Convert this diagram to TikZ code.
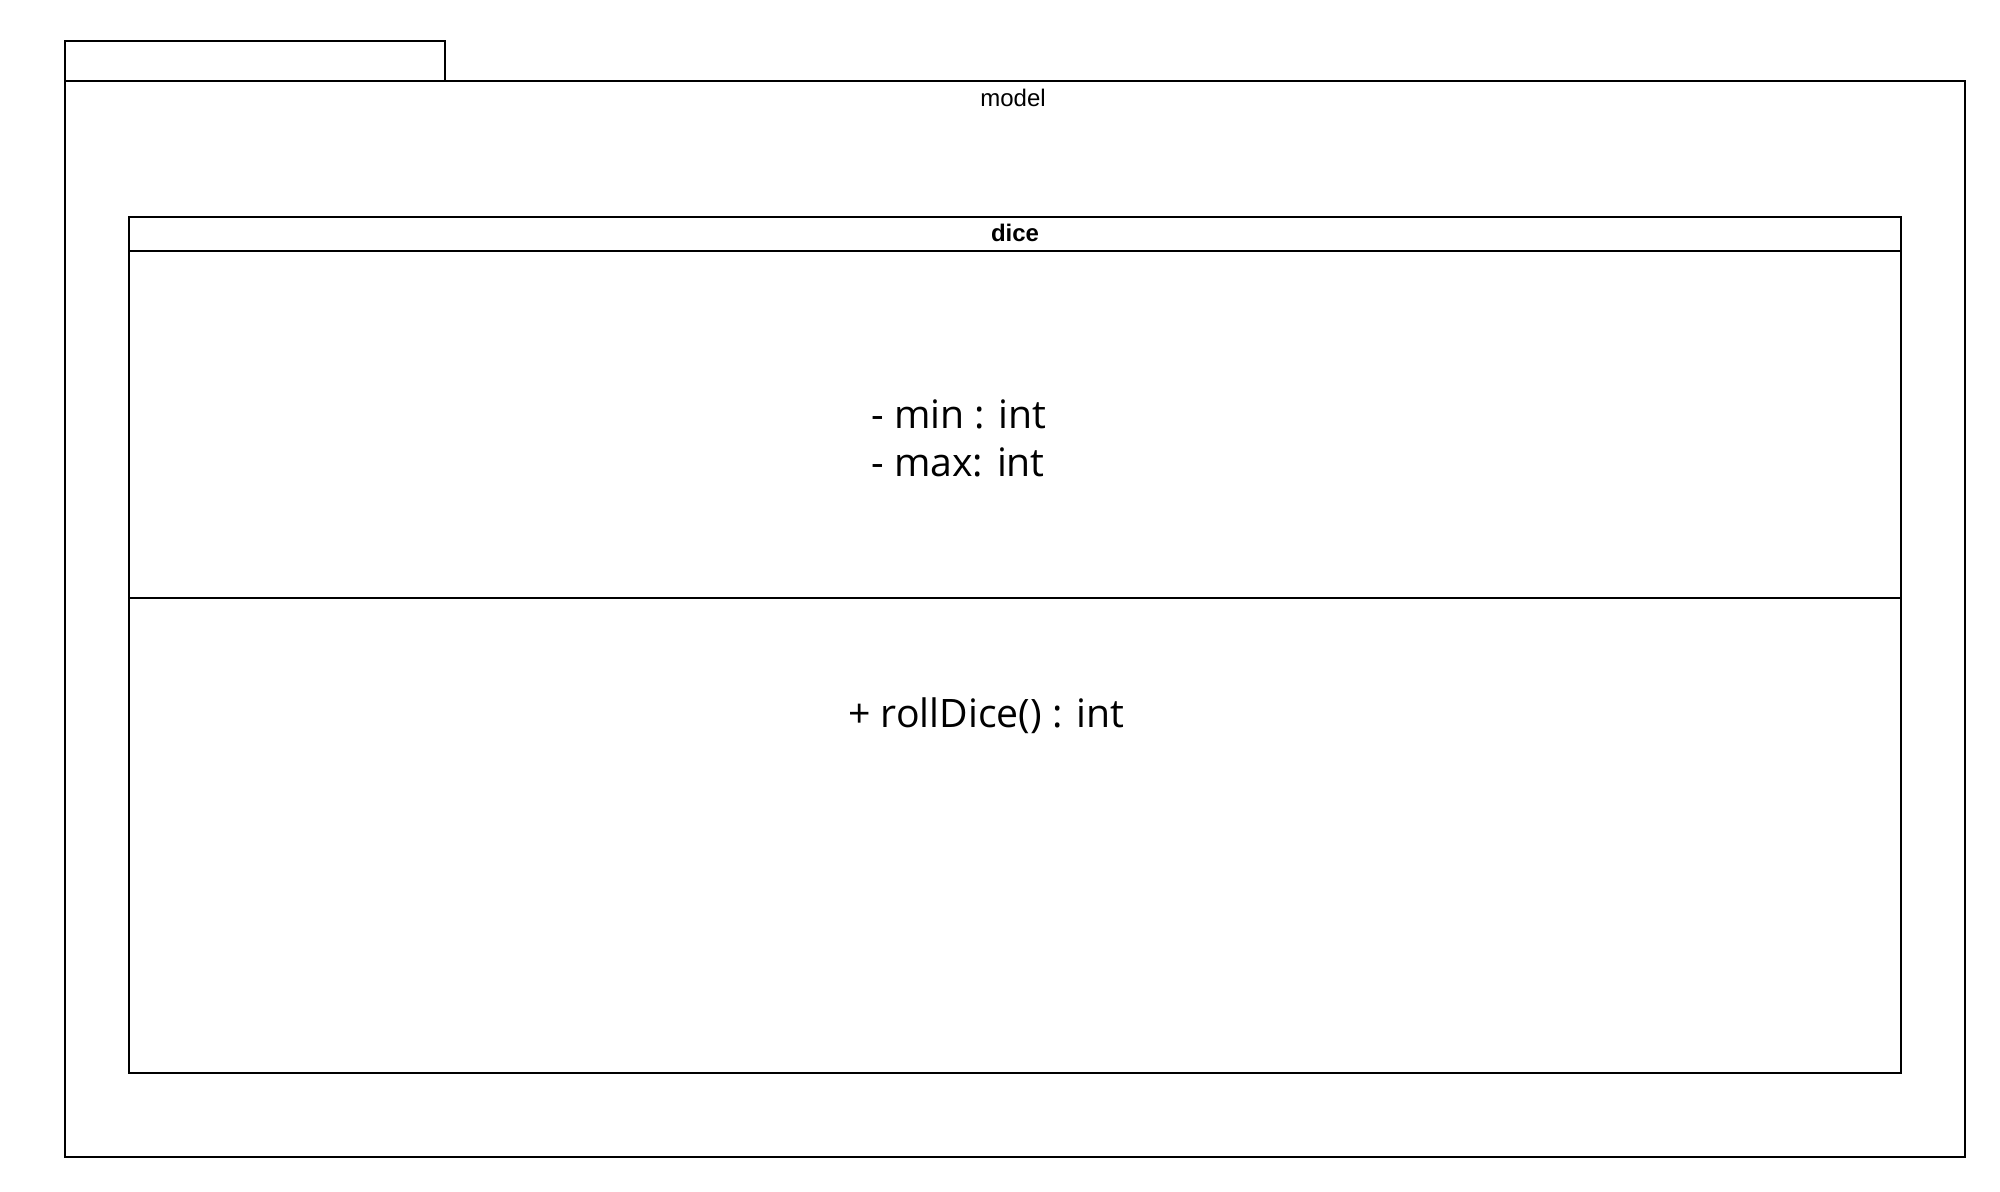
\documentclass[tikz,border=0pt]{standalone}
\usepackage{fontspec}
\setmainfont{Liberation Sans}
\newfontfamily\membersfont{Open Sans}
\usetikzlibrary{positioning}
\tikzset{
  every box/.style={draw,line width=0.65pt,inner sep=0pt,outer sep=0pt},
  member text/.style={inner sep=0pt,font=\membersfont\fontsize{19.6pt}{24pt}\selectfont,align=left},
}
\colorlet{umlline}{black}

\begin{document}
\begin{tikzpicture}[x=0.5pt,y=-0.5pt]
\useasboundingbox[fill=white] (0,0) rectangle (2000,1192);
% package
\node[every box,umlline,minimum width=190pt,minimum height=20pt] (tab) at (255,61) {};
\node[every box,umlline,minimum width=950pt,minimum height=538pt] (pkg) at (1015,619) {};
\node[inner sep=0pt,font=\fontsize{12pt}{14pt}\selectfont] (pkg label) at (1013,98) {model};
% class dice
\node[every box,umlline,minimum width=886pt,minimum height=17pt] (dice) at (1015,234)
  {\fontsize{12pt}{14pt}\selectfont\bfseries\raisebox{0.8pt}[\height][0pt]{dice}};
\node[every box,umlline,minimum width=886pt,minimum height=173.5pt,below=0pt of dice] (dice attrs) {};
\node[every box,umlline,minimum width=886pt,minimum height=237.5pt,below=0pt of dice attrs] (dice ops) {};
\node[member text,anchor=base west] (attrs) at (871,476) {- min : int\\- max: int};
\node[member text,anchor=base west] (ops) at (848,727) {+ rollDice() : int};
\end{tikzpicture}
\end{document}
